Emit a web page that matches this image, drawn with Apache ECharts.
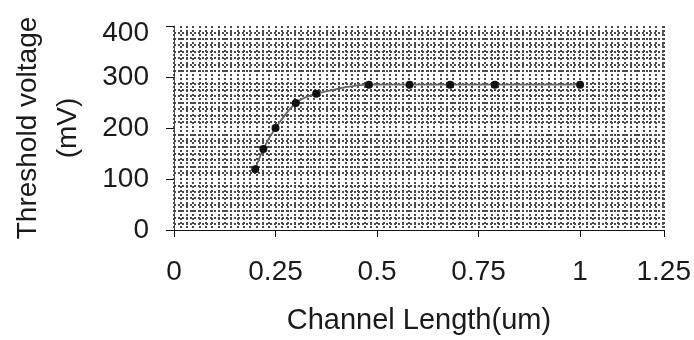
<!DOCTYPE html>
<html>
<head>
<meta charset="utf-8">
<script src="https://cdn.jsdelivr.net/npm/echarts@6/dist/echarts.min.js"></script>
<style>
html,body{margin:0;padding:0;background:#fff;}
#c{width:694px;height:340px;}
</style>
</head>
<body>
<div id="c"></div>
<script>
const channelLength = [0.2, 0.22, 0.25, 0.3, 0.35, 0.48, 0.58, 0.68, 0.79, 1.0];
const thresholdVoltage = [119, 159, 200, 249, 267, 285, 285, 285, 285, 285];
const xTickLabels = ['0', '0.25', '0.5', '0.75', '1', '1.25'];
const yTickLabels = ['0', '100', '200', '300', '400'];
const xAxisMax = 1.206;

const font = 'Liberation Sans, Arial, sans-serif';
const gridDots = {color: '#4a4a4a', width: 2, type: [2, 2]};
const chart = echarts.init(document.getElementById('c'), null, {renderer: 'canvas'});
chart.setOption({
  animation: false,
  backgroundColor: '#fff',
  grid: {left: 172, right: 30, top: 26, bottom: 109, containLabel: false},
  xAxis: {
    type: 'value', min: 0, max: xAxisMax, interval: 0.25,
    name: 'Channel Length(um)', nameLocation: 'middle', nameGap: 76,
    nameTextStyle: {fontFamily: font, fontSize: 29, color: '#1a1a1a'},
    axisLine: {show: true, lineStyle: {color: '#111', width: 1}},
    axisTick: {show: true, inside: false, length: 7, lineStyle: {color: '#111', width: 1}},
    axisLabel: {
      showMaxLabel: true, showMinLabel: true, margin: 28,
      fontFamily: font, fontSize: 28, color: '#1a1a1a',
      formatter: (v, i) => xTickLabels[i] !== undefined ? xTickLabels[i] : ''
    },
    splitLine: {show: true, lineStyle: gridDots},
    minorTick: {show: true, splitNumber: 16, length: 0},
    minorSplitLine: {show: true, lineStyle: gridDots}
  },
  yAxis: {
    type: 'value', min: 0, max: 400, interval: 100,
    name: 'Threshold voltage\n(mV)', nameLocation: 'middle', nameGap: 86, nameRotate: 90,
    nameTextStyle: {fontFamily: font, fontSize: 28, color: '#1a1a1a', lineHeight: 40, align: 'center'},
    axisLine: {show: true, lineStyle: {color: '#444', width: 1}},
    axisTick: {show: true, inside: false, length: 8, lineStyle: {color: '#111', width: 1}},
    axisLabel: {
      margin: 25, fontFamily: font, fontSize: 28, color: '#1a1a1a',
      formatter: (v, i) => {
        const t = yTickLabels[i] !== undefined ? yTickLabels[i] : '';
        return i === yTickLabels.length - 1 ? '{top|' + t + '}' : t;
      },
      rich: {top: {fontFamily: font, fontSize: 28, color: '#1a1a1a', padding: [14, 0, 0, 0]}}
    },
    splitLine: {show: true, lineStyle: {color: ['#111', '#1a1a1a', '#1a1a1a', '#1a1a1a', '#9a9a9a'], width: [1, 1.6, 1.6, 1.6, 2.5]}},
    minorTick: {show: true, splitNumber: 8, length: 0},
    minorSplitLine: {show: true, lineStyle: gridDots}
  },
  series: [{
    type: 'line',
    data: channelLength.map((x, i) => [x, thresholdVoltage[i]]),
    smooth: 0.3,
    symbol: 'circle', symbolSize: 8,
    itemStyle: {color: '#111'},
    lineStyle: {color: '#666', width: 1.8},
    z: 5
  }]
});
</script>
</body>
</html>
